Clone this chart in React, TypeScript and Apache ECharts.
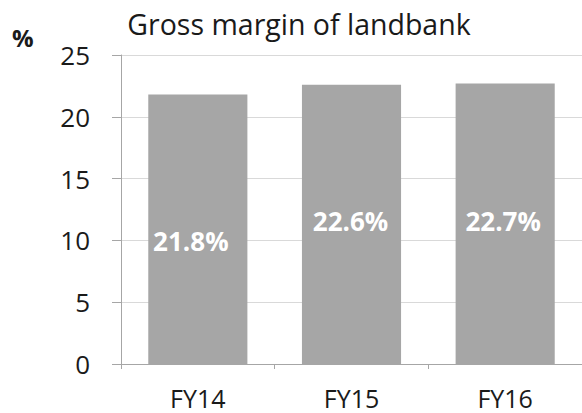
import React, { useEffect, useRef } from "react";
import * as echarts from "echarts";

const categories = ["FY14", "FY15", "FY16"];
const values = [21.8, 22.6, 22.7];
const valueLabels = ["21.8%", "22.6%", "22.7%"];
const yTicks = [0, 5, 10, 15, 20, 25];

const labelOffsets: [number, number][] = [[-7, 12], [-1, -3], [-2, -3]];

export default function App() {
  const ref = useRef<HTMLDivElement>(null);
  useEffect(() => {
    document.body.style.margin = "0";
    const chart = echarts.init(ref.current!, undefined, { renderer: "svg" });
    const font = "Open Sans";
    chart.setOption({
      animation: false,
      backgroundColor: "#ffffff",
      title: {
        text: "Gross margin of landbank",
        left: 294,
        top: 4,
        textAlign: "center",
        textStyle: { fontFamily: font, fontSize: 28.5, fontWeight: "normal", color: "#1a1a1a" },
      },
      graphic: [
        {
          type: "text",
          left: 12,
          top: 25,
          style: { text: "%", fontFamily: font, fontSize: 24, fontWeight: "bold", fill: "#1a1a1a" },
        },
      ],
      grid: { left: 121, right: -5, top: 55, bottom: 49 },
      xAxis: {
        type: "category",
        data: categories,
        axisLine: { lineStyle: { color: "#a6a6a6", width: 1 } },
        axisTick: { show: true, alignWithLabel: false, length: 5, lineStyle: { color: "#a6a6a6" } },
        axisLabel: { fontFamily: font, fontSize: 25, color: "#1a1a1a", margin: 21 },
      },
      yAxis: {
        type: "value",
        min: yTicks[0],
        max: yTicks[yTicks.length - 1],
        interval: 5,
        axisLine: { show: true, lineStyle: { color: "#a6a6a6", width: 1 } },
        axisTick: { show: true, length: 9, lineStyle: { color: "#a6a6a6" } },
        axisLabel: { fontFamily: font, fontSize: 26, color: "#1a1a1a", margin: 31 },
        splitLine: { show: true, lineStyle: { color: "#d9d9d9", width: 1 } },
      },
      series: [
        {
          type: "bar",
          barWidth: "64.5%",
          itemStyle: { color: "#a6a6a6" },
          data: values.map((v, i) => ({
            value: v,
            label: {
              show: true,
              position: "inside",
              offset: labelOffsets[i],
              formatter: valueLabels[i],
              fontFamily: font,
              fontSize: 26,
              fontWeight: "bold",
              color: "#ffffff",
            },
          })),
        },
      ],
    });
    return () => chart.dispose();
  }, []);
  return <div ref={ref} style={{ width: 582, height: 413 }} />;
}
